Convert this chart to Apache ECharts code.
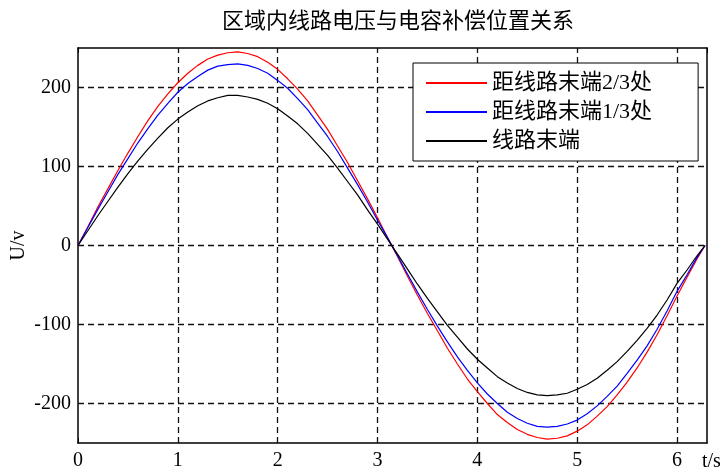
<!DOCTYPE html>
<html>
<head>
<meta charset="utf-8">
<script src="https://cdn.jsdelivr.net/npm/echarts@6/dist/echarts.min.js"></script>
<style>
html,body{margin:0;padding:0;background:#fff;}
#chart{width:723px;height:473px;}
</style>
</head>
<body>
<div id="chart"></div>
<script>
const titleText = '区域内线路电压与电容补偿位置关系';
const seriesNames = ['距线路末端2/3处', '距线路末端1/3处', '线路末端'];
const seriesColors = ['#ff0000', '#0000ff', '#000000'];
const xTickLabels = [0, 1, 2, 3, 4, 5, 6];
const yTickLabels = [-200, -100, 0, 100, 200];

const tValues = [0,0.1,0.2,0.3,0.4,0.5,0.6,0.7,0.8,0.9,1.0,1.1,1.2,1.3,1.4,1.5,1.6,1.7,1.8,1.9,2.0,2.1,2.2,2.3,2.4,2.5,2.6,2.7,2.8,2.9,3.0,3.1,3.2,3.3,3.4,3.5,3.6,3.7,3.8,3.9,4.0,4.1,4.2,4.3,4.4,4.5,4.6,4.7,4.8,4.9,5.0,5.1,5.2,5.3,5.4,5.5,5.6,5.7,5.8,5.9,6.0,6.1,6.2,6.28];
const redValues = [0,24,49,72,95,117,138,158,176,192,206,218,228,236,241,244,245,243,239,232,223,211,198,183,165,147,126,105,82,59,35,10,-14,-39,-63,-86,-108,-130,-150,-169,-185,-200,-214,-224,-233,-239,-243,-245,-244,-241,-235,-227,-216,-204,-189,-173,-155,-135,-113,-89,-64,-40,-17,0];
const blueValues = [0,23,46,68,90,110,130,148,165,180,194,205,214,222,227,229,230,228,224,218,209,199,186,172,155,138,119,98,77,55,32,10,-13,-36,-59,-81,-102,-122,-141,-158,-174,-188,-200,-211,-219,-225,-229,-230,-229,-226,-221,-213,-203,-191,-178,-162,-145,-127,-106,-83,-58,-37,-15,0];
const blackValues = [0,19,38,56,74,91,107,122,136,149,160,169,177,183,187,190,190,188,185,180,173,164,154,142,128,114,98,81,64,45,27,8,-11,-30,-49,-67,-84,-101,-116,-131,-144,-155,-166,-174,-181,-186,-189,-190,-189,-187,-182,-176,-168,-158,-147,-134,-120,-105,-88,-69,-48,-31,-13,0];

const allValues = [redValues, blueValues, blackValues];
const serifFont = "'Liberation Serif', 'Noto Sans CJK SC', serif";
const cjkFont = "'Noto Sans CJK SC', sans-serif";

const chart = echarts.init(document.getElementById('chart'));

const curveSeries = seriesNames.map((name, i) => ({
  name: name,
  type: 'line',
  data: tValues.map((t, j) => [t, allValues[i][j]]),
  showSymbol: false,
  symbol: 'none',
  z: 3,
  itemStyle: { color: seriesColors[i] },
  lineStyle: { color: seriesColors[i], width: 1.2 }
}));

const gridLines = yTickLabels.map(v => ({ yAxis: v }))
  .concat(xTickLabels.filter(v => v > 0).map(v => ({ xAxis: v })));

const gridSeries = {
  name: 'grid',
  type: 'line',
  data: [[0, 0]],
  symbol: 'none',
  lineStyle: { width: 0 },
  z: 1,
  silent: true,
  markLine: {
    silent: true,
    symbol: 'none',
    z: 1,
    label: { show: false },
    emphasis: { disabled: true },
    lineStyle: { type: [6, 4], color: '#111', width: 1.3 },
    data: gridLines
  }
};

const xCommon = {
  type: 'value', min: 0, max: 6.3, interval: 1,
  axisLine: { onZero: false, lineStyle: { color: '#000', width: 1.5 } },
  axisTick: { inside: true, length: 5, lineStyle: { color: '#000', width: 1 } },
  splitLine: { show: false }
};
const yCommon = {
  type: 'value', min: -250, max: 250, interval: 50,
  axisLine: { show: true, onZero: false, lineStyle: { color: '#000', width: 1.5 } },
  axisTick: { show: false },
  splitLine: { show: false }
};

chart.setOption({
  animation: false,
  backgroundColor: '#fff',
  title: {
    text: titleText,
    left: 222, top: 9, padding: 0,
    textStyle: { fontSize: 22, fontWeight: 'normal', fontFamily: cjkFont, color: '#000' }
  },
  grid: { left: 78, right: 16, top: 48, bottom: 30, containLabel: false, outerBoundsMode: 'none' },
  legend: {
    orient: 'vertical',
    left: 413, top: 63,
    padding: [9, 46, 9, 13],
    itemWidth: 61, itemHeight: 2, itemGap: 7,
    icon: 'rect',
    borderColor: '#000', borderWidth: 1, backgroundColor: '#fff',
    textStyle: { fontSize: 22, fontFamily: serifFont, color: '#000' },
    data: seriesNames
  },
  xAxis: [
    Object.assign({}, xCommon, {
      position: 'bottom',
      name: 't/s',
      nameLocation: 'end',
      nameGap: -5,
      nameTextStyle: { fontSize: 20, fontFamily: serifFont, color: '#000', verticalAlign: 'top', padding: [9, 0, 0, 0] },
      axisLabel: {
        margin: 8, fontSize: 20, fontFamily: serifFont, color: '#000',
        showMaxLabel: false,
        formatter: v => (xTickLabels.indexOf(v) >= 0 ? String(v) : '')
      }
    }),
    Object.assign({}, xCommon, { position: 'top', axisLabel: { show: false } })
  ],
  yAxis: [
    Object.assign({}, yCommon, {
      position: 'left',
      name: 'U/v',
      nameLocation: 'middle',
      nameGap: 49,
      nameMoveOverlap: false,
      nameTextStyle: { fontSize: 20, fontFamily: serifFont, color: '#000' },
      axisLabel: {
        margin: 7, fontSize: 20, fontFamily: serifFont, color: '#000',
        formatter: v => (yTickLabels.indexOf(v) >= 0 ? String(v) : '')
      }
    }),
    Object.assign({}, yCommon, { position: 'right', axisLabel: { show: false } })
  ],
  series: [gridSeries].concat(curveSeries)
});
</script>
</body>
</html>
